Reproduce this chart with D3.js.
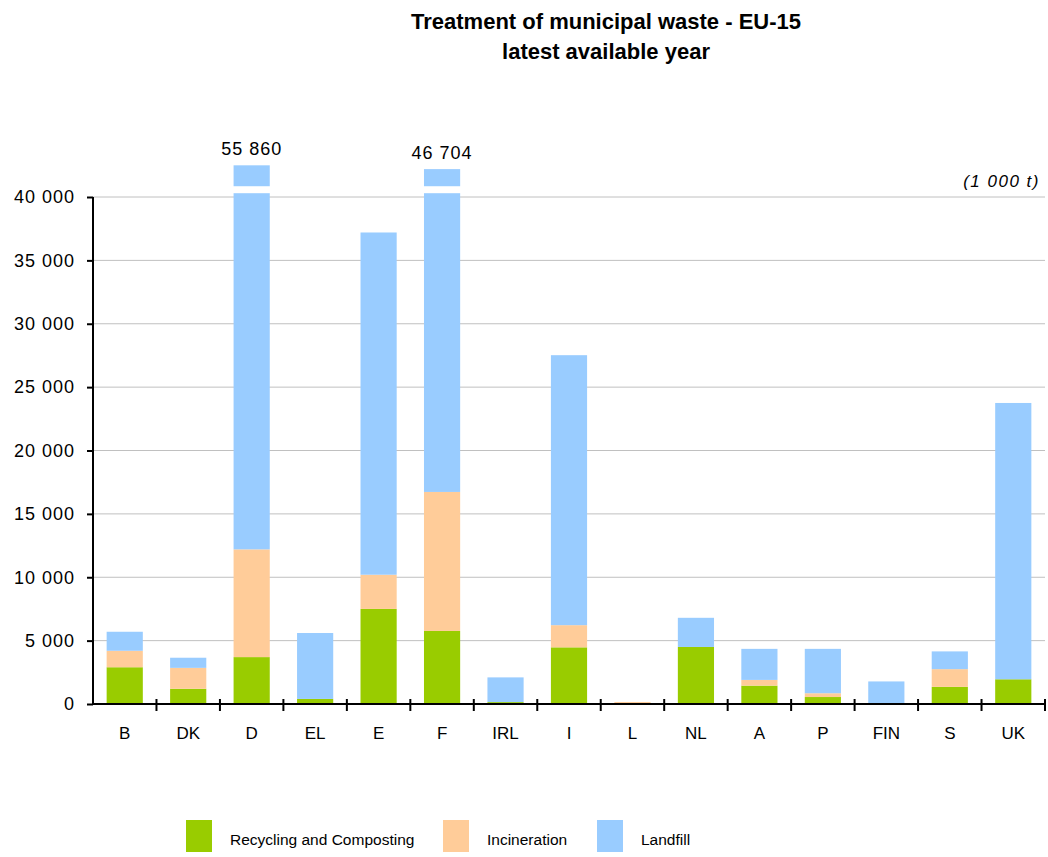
<!DOCTYPE html>
<html>
<head>
<meta charset="utf-8">
<script src="https://cdn.jsdelivr.net/npm/d3@7"></script>
<style>
  body { margin: 0; background: #fff; }
  svg text { font-family: "Liberation Sans", Arial, sans-serif; fill: #000; }
</style>
</head>
<body>
<script>
// data, in 1 000 t
var countries    = ["B","DK","D","EL","E","F","IRL","I","L","NL","A","P","FIN","S","UK"];
var recycling    = [2900,1200,3700,400,7500,5760,150,4470,30,4500,1450,550,50,1350,1950];
var incineration = [1300,1650,8500,0,2700,10970,0,1750,130,0,450,300,0,1400,0];
var landfill     = [1500,800,43660,5200,27000,29974,1950,21300,0,2300,2450,3500,1730,1400,21800];
var seriesNames  = ["Recycling and Composting","Incineration","Landfill"];
var yTicks       = [0,5000,10000,15000,20000,25000,30000,35000,40000];

// bars that run off the axis are cut and labelled with their total
var brokenCountries = ["D","F"];
var brokenTops      = [42500,42200];
var breakFrom = 40300, breakTo = 40850;

var colors = ["#99cc00","#ffcc99","#99ccff"];

var margin = {top: 197, left: 93},
    width = 952,
    height = 507;

var nf = d3.formatLocale({decimal: ".", thousands: " ", grouping: [3], currency: ["", ""]}).format(",");

var svg = d3.select("body").append("svg")
    .attr("width", 1048)
    .attr("height", 857);

// title
svg.append("text")
    .attr("x", 606).attr("y", 29)
    .attr("text-anchor", "middle")
    .style("font-weight", "bold").style("font-size", "22px")
    .text("Treatment of municipal waste - EU-15");
svg.append("text")
    .attr("x", 606).attr("y", 59)
    .attr("text-anchor", "middle")
    .style("font-weight", "bold").style("font-size", "22px")
    .text("latest available year");

var g = svg.append("g")
    .attr("transform", "translate(" + margin.left + "," + margin.top + ")");

var x = d3.scaleBand()
    .domain(countries)
    .range([0, width])
    .paddingInner(0.43)
    .paddingOuter(0.215);

var y = d3.scaleLinear()
    .domain([0, 40000])
    .range([height, 0]);

// grid
g.selectAll(".grid")
    .data(yTicks.slice(1))
    .enter().append("line")
    .attr("class", "grid")
    .attr("x1", 0).attr("x2", width)
    .attr("y1", function(d) { return y(d); })
    .attr("y2", function(d) { return y(d); })
    .style("stroke", "#c0c0c0")
    .style("stroke-width", 1);

g.append("text")
    .attr("x", width - 5).attr("y", -10)
    .attr("text-anchor", "end")
    .style("font-style", "italic").style("font-size", "17px")
    .style("letter-spacing", "1.5px")
    .text("(1 000 t)");

var table = countries.map(function(c, i) {
  return {country: c, r: recycling[i], inc: incineration[i], l: landfill[i]};
});
var stack = d3.stack().keys(["r","inc","l"]);
var layers = stack(table);

function capOf(c) {
  var k = brokenCountries.indexOf(c);
  return k < 0 ? Infinity : brokenTops[k];
}

g.selectAll(".layer")
    .data(layers)
    .enter().append("g")
    .attr("class", "layer")
    .attr("fill", function(d, i) { return colors[i]; })
  .selectAll("rect")
    .data(function(d) { return d; })
    .enter().append("rect")
    .filter(function(d) { return d[1] > d[0]; })
    .attr("x", function(d) { return x(d.data.country); })
    .attr("width", x.bandwidth())
    .attr("y", function(d) { return y(Math.min(d[1], capOf(d.data.country))); })
    .attr("height", function(d) {
      var top = Math.min(d[1], capOf(d.data.country));
      return y(d[0]) - y(top);
    });

// breaks + totals on the cut bars
brokenCountries.forEach(function(c, k) {
  var i = countries.indexOf(c);
  g.append("rect")
      .attr("x", x(c) - 1)
      .attr("width", x.bandwidth() + 2)
      .attr("y", y(breakTo))
      .attr("height", y(breakFrom) - y(breakTo))
      .attr("fill", "#fff");
  g.append("text")
      .attr("x", x(c) + x.bandwidth() / 2)
      .attr("y", y(brokenTops[k]) - 10)
      .attr("text-anchor", "middle")
      .style("font-size", "18px")
      .style("letter-spacing", "1px")
      .text(nf(recycling[i] + incineration[i] + landfill[i]));
});

// axes
var yAxis = d3.axisLeft(y).tickValues(yTicks).tickSize(6).tickPadding(12).tickFormat(nf);
var ya = g.append("g").call(yAxis);
ya.select(".domain").attr("d", "M0," + height + "V0").style("stroke", "#000").style("stroke-width", 2);
ya.selectAll(".tick line").style("stroke", "#000").style("stroke-width", 2);
ya.selectAll("text")
    .style("font-size", "18px")
    .style("letter-spacing", "1px")
    .style("font-family", "Liberation Sans, Arial, sans-serif");

var xAxis = d3.axisBottom(x).tickSize(0).tickPadding(23);
var xa = g.append("g")
    .attr("transform", "translate(0," + height + ")")
    .call(xAxis);
xa.select(".domain").attr("d", "M0,0H" + width).style("stroke", "#000").style("stroke-width", 2);
xa.selectAll("text").style("font-size", "17px").style("font-family", "Liberation Sans, Arial, sans-serif");

// band boundary ticks across the x axis
var edges = countries.map(function(c) { return x(c) + x.bandwidth() + x.step() * x.paddingInner() / 2; });
g.selectAll(".xtick")
    .data(edges)
    .enter().append("line")
    .attr("class", "xtick")
    .attr("x1", function(d) { return d; }).attr("x2", function(d) { return d; })
    .attr("y1", height - 5).attr("y2", height + 7)
    .style("stroke", "#000").style("stroke-width", 2);

// legend
var legendX = [186, 443, 597];
var legend = svg.selectAll(".legend")
    .data(seriesNames)
    .enter().append("g")
    .attr("class", "legend")
    .attr("transform", function(d, i) { return "translate(" + legendX[i] + ",820)"; });
legend.append("rect")
    .attr("width", 26).attr("height", 32)
    .attr("fill", function(d, i) { return colors[i]; });
legend.append("text")
    .attr("x", 44).attr("y", 25)
    .style("font-size", "15.5px")
    .text(function(d) { return d; });
</script>
</body>
</html>
